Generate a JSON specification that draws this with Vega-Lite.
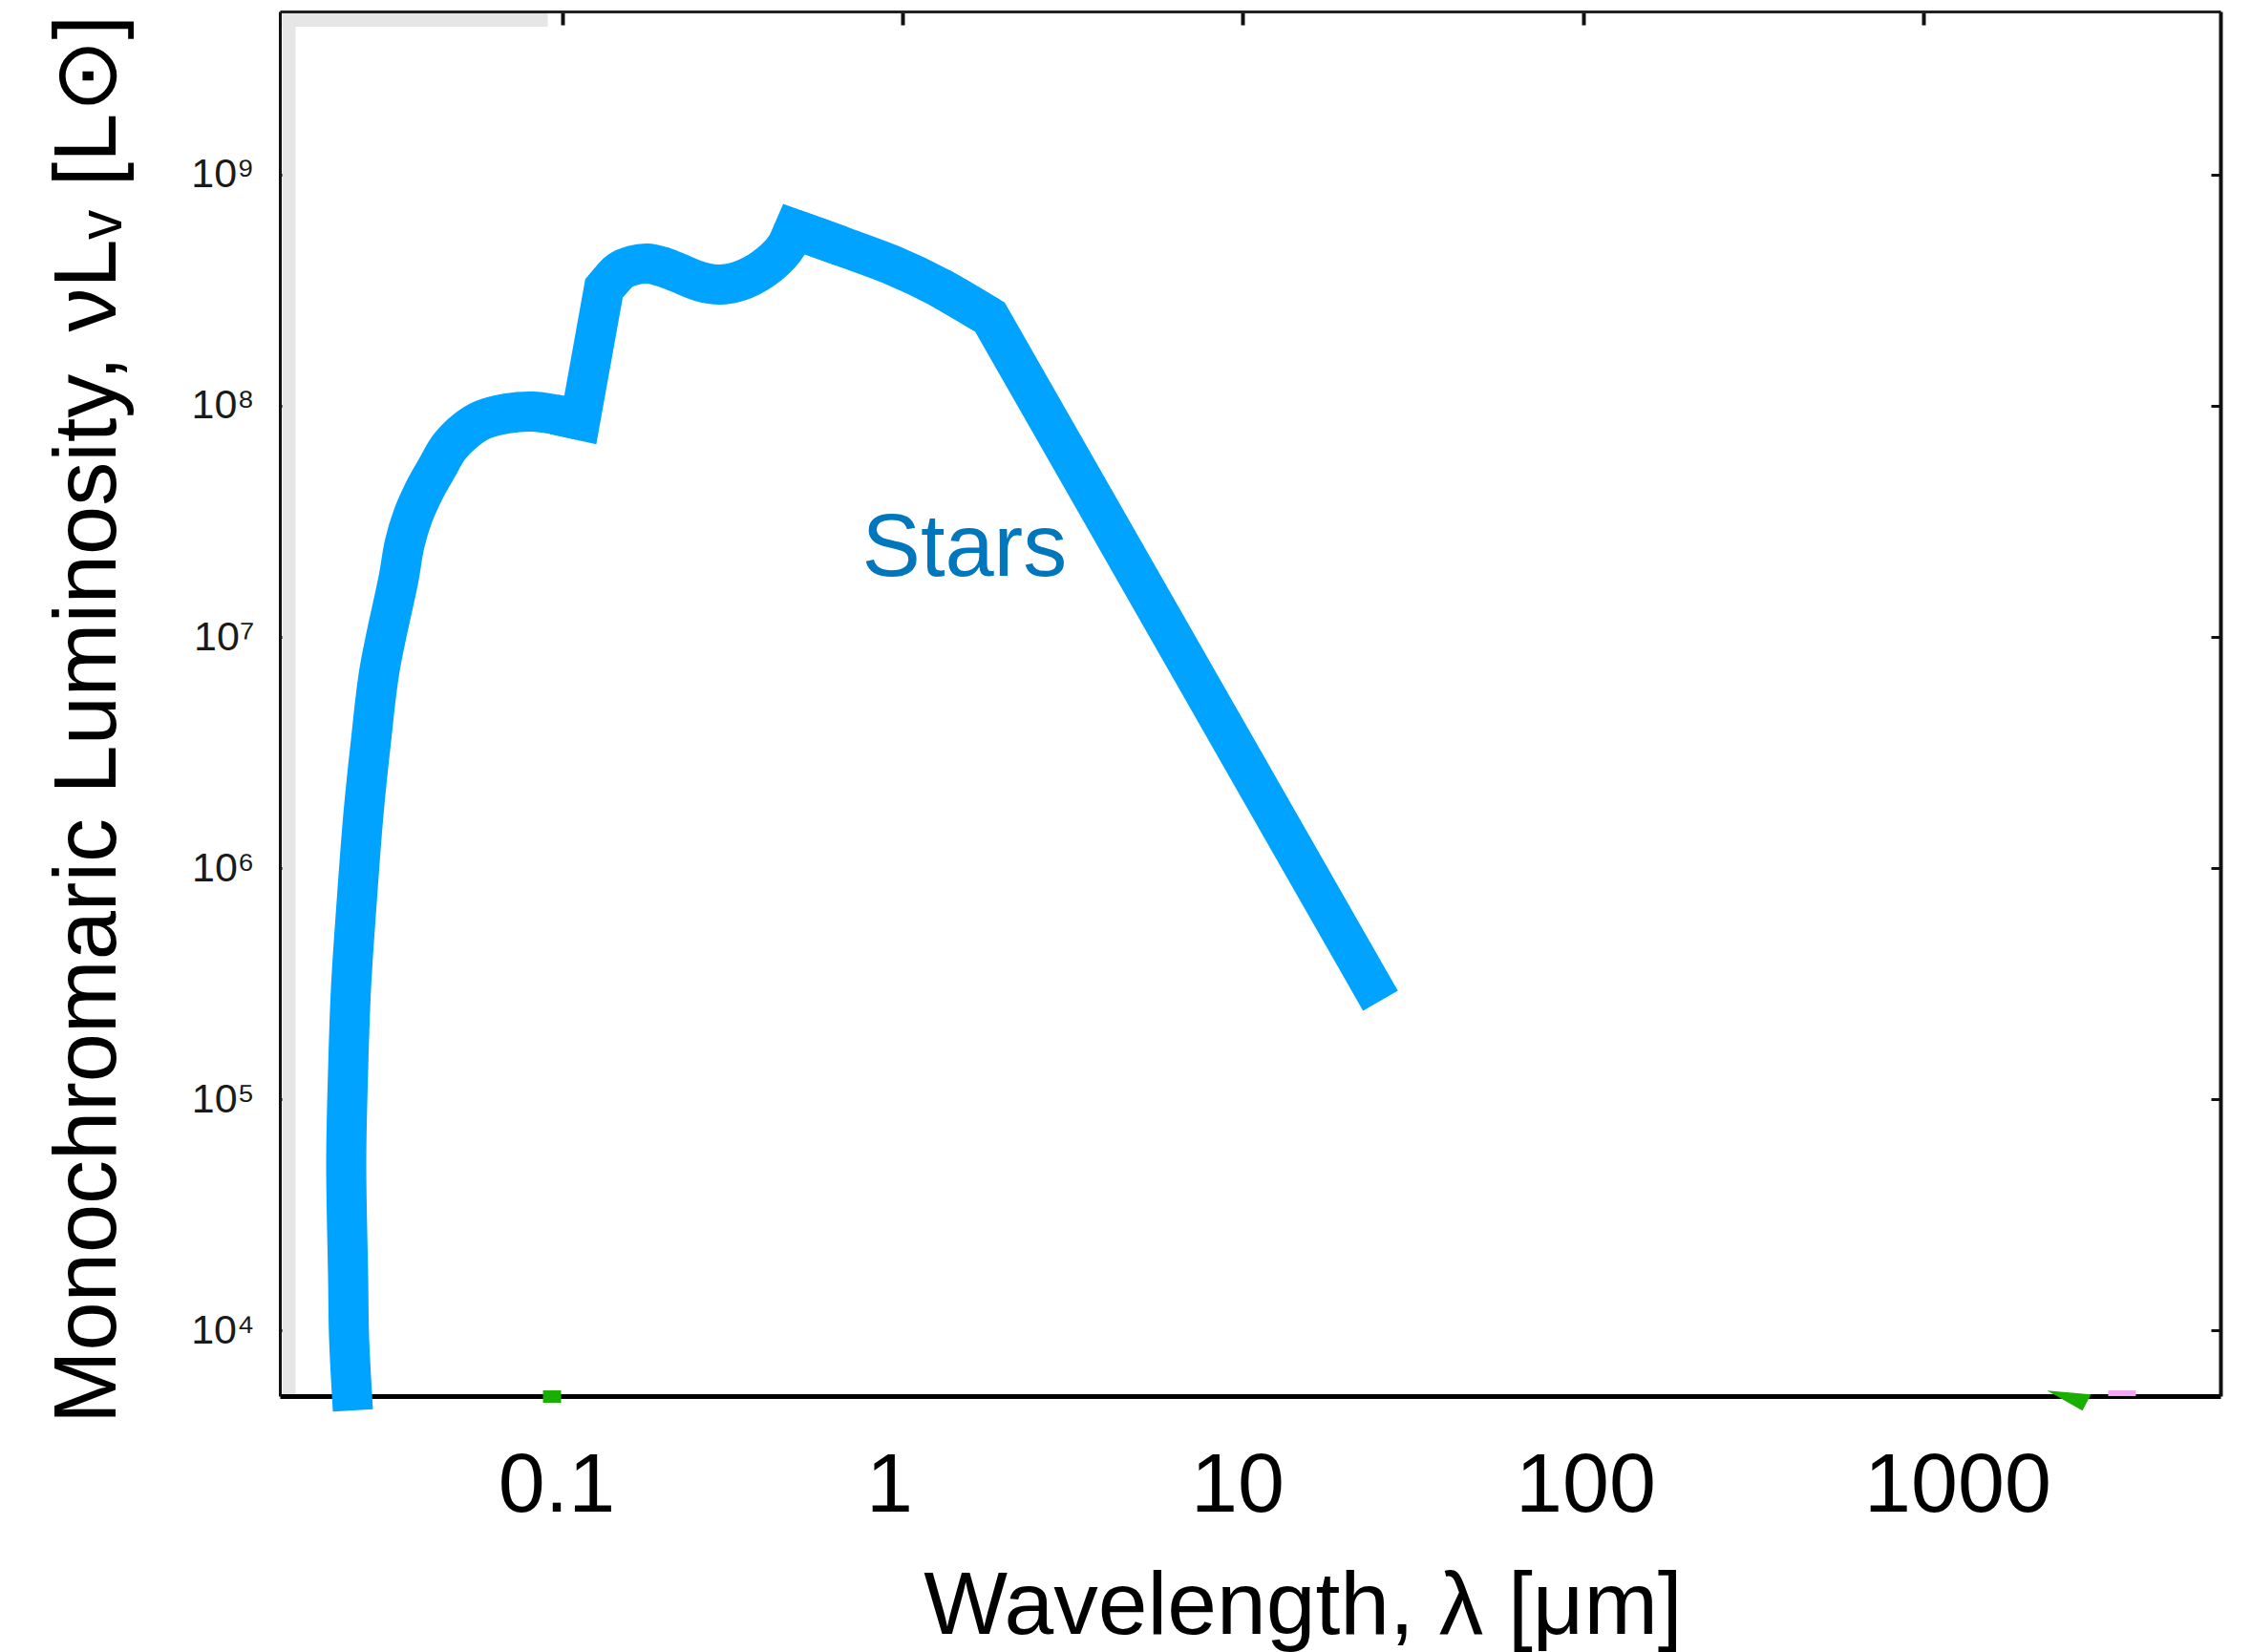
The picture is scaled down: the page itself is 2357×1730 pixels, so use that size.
{
  "$schema": "https://vega.github.io/schema/vega-lite/v6.json",
  "width": 2032,
  "height": 1450,
  "autosize": {"type": "none"},
  "padding": {"left": 293, "top": 12, "right": 32, "bottom": 268},
  "background": "white",
  "config": {"view": {"stroke": null}, "font": "Liberation Sans", "axis": {"grid": false}},
  "resolve": {"axis": {"x": "independent", "y": "independent"}},
  "datasets": {
    "stars": [
      {"i": 1, "lam": 0.02430, "L": 4497},
      {"i": 2, "lam": 0.02368, "L": 9357},
      {"i": 3, "lam": 0.02353, "L": 16880},
      {"i": 4, "lam": 0.02323, "L": 53370},
      {"i": 5, "lam": 0.02353, "L": 134300},
      {"i": 6, "lam": 0.02399, "L": 301500},
      {"i": 7, "lam": 0.02493, "L": 710000},
      {"i": 8, "lam": 0.02609, "L": 1703600},
      {"i": 9, "lam": 0.02748, "L": 3578000},
      {"i": 10, "lam": 0.02912, "L": 7236000},
      {"i": 11, "lam": 0.03314, "L": 18040000},
      {"i": 12, "lam": 0.03445, "L": 25160000},
      {"i": 13, "lam": 0.03650, "L": 33480000},
      {"i": 14, "lam": 0.03947, "L": 43280000},
      {"i": 15, "lam": 0.04290, "L": 53880000},
      {"i": 16, "lam": 0.04667, "L": 66430000},
      {"i": 17, "lam": 0.05242, "L": 78820000},
      {"i": 18, "lam": 0.05813, "L": 86700000},
      {"i": 19, "lam": 0.06877, "L": 92660000},
      {"i": 20, "lam": 0.08185, "L": 94450000},
      {"i": 21, "lam": 0.09497, "L": 91800000},
      {"i": 22, "lam": 0.1131, "L": 86700000},
      {"i": 23, "lam": 0.1328, "L": 322400000},
      {"i": 24, "lam": 0.1474, "L": 382400000},
      {"i": 25, "lam": 0.1613, "L": 404900000},
      {"i": 26, "lam": 0.1777, "L": 412800000},
      {"i": 27, "lam": 0.1957, "L": 401100000},
      {"i": 28, "lam": 0.2171, "L": 378900000},
      {"i": 29, "lam": 0.2551, "L": 344500000},
      {"i": 30, "lam": 0.2921, "L": 334800000},
      {"i": 31, "lam": 0.3456, "L": 354500000},
      {"i": 32, "lam": 0.4088, "L": 412800000},
      {"i": 33, "lam": 0.4592, "L": 499300000},
      {"i": 34, "lam": 0.4803, "L": 581500000},
      {"i": 35, "lam": 0.6636, "L": 489900000},
      {"i": 36, "lam": 0.9224, "L": 408900000},
      {"i": 37, "lam": 1.2823, "L": 325400000},
      {"i": 38, "lam": 1.8059, "L": 242300000},
      {"i": 39, "lam": 25.34, "L": 266500}
    ]
  },
  "layer": [
    {
      "data": {"values": [
        {"lam": 0.01507, "lam2": 0.0165, "L": 5285, "L2": 4.992e9},
        {"lam": 0.01507, "lam2": 0.0908, "L": 4.37e9, "L2": 4.992e9}
      ]},
      "mark": {"type": "rect", "color": "#e6e6e6"},
      "encoding": {
        "x": {"field": "lam", "type": "quantitative",
          "scale": {"type": "log", "domain": [0.014825, 7432], "nice": false},
          "axis": {"orient": "bottom", "values": [0.1, 1, 10, 100, 1000], "format": "~g",
            "labelFont": "Liberation Sans", "labelFontSize": 88, "labelColor": "black", "labelPadding": 50, "labelLimit": 0,
            "labelOffset": {"condition": [{"test": "datum.value == 1000", "value": 35}, {"test": "datum.value == 1", "value": -14}, {"test": "datum.value == 100", "value": 2}], "value": -6},
            "ticks": false, "domainWidth": 5, "domainColor": "black",
            "title": "Wavelength, λ [μm]", "titleFont": "Liberation Sans", "titleFontSize": 93, "titleFontWeight": "normal",
            "titleColor": "black", "titleX": 1071, "titleY": 248, "titleBaseline": "alphabetic", "titleAlign": "center", "titleLimit": 0,
            "labelFlush": false, "labelOverlap": false, "grid": false}},
        "x2": {"field": "lam2"},
        "y": {"field": "L", "type": "quantitative",
          "scale": {"type": "log", "domain": [5188, 5.088e9], "nice": false},
          "axis": {"orient": "left", "values": [10000, 100000, 1000000, 10000000, 100000000, 1000000000],
            "labelExpr": "'10' + ['⁰','¹','²','³','⁴','⁵','⁶','⁷','⁸','⁹'][round(log(datum.value)/LN10)]",
            "labelFont": "Liberation Sans", "labelFontSize": 43, "labelColor": "#1a1a1a", "labelPadding": 39, "labelBaseline": "middle", "labelLimit": 0,
            "tickSize": -12, "tickWidth": 3, "tickColor": "#111111", "domainWidth": 3, "domainColor": "#111111",
            "title": "Monochromaric Luminosity, νLᵥ [L⊙]", "titleFont": "Liberation Sans", "titleFontSize": 92, "titleFontWeight": "normal",
            "titleColor": "black", "titleX": -173, "titleY": 741, "titleAngle": -90, "titleBaseline": "alphabetic", "titleAlign": "center", "titleLimit": 0,
            "labelFlush": false, "labelOverlap": false, "grid": false}},
        "y2": {"field": "L2"}
      }
    },
    {
      "data": {"name": "stars"},
      "transform": [{"filter": "datum.i >= 21 && datum.i <= 24"}],
      "mark": {"type": "line", "color": "#00A3FF", "strokeWidth": 42, "clip": false, "strokeJoin": "miter", "strokeCap": "butt", "strokeMiterLimit": 10},
      "encoding": {
        "x": {"field": "lam", "type": "quantitative",
          "scale": {"type": "log", "domain": [0.014825, 7432], "nice": false},
          "axis": {"orient": "top", "values": [0.1, 1, 10, 100, 1000], "labels": false, "title": null,
            "tickSize": -14, "tickWidth": 4, "tickColor": "#111111", "domainWidth": 3, "domainColor": "#222222", "grid": false}},
        "y": {"field": "L", "type": "quantitative",
          "scale": {"type": "log", "domain": [5188, 5.088e9], "nice": false},
          "axis": {"orient": "right", "values": [10000, 100000, 1000000, 10000000, 100000000, 1000000000], "labels": false, "title": null,
            "tickSize": -10, "tickWidth": 3, "tickColor": "#111111", "domainWidth": 4, "domainColor": "#111111", "grid": false}},
        "order": {"field": "i", "type": "quantitative"}
      }
    },
    {
      "data": {"name": "stars"},
      "transform": [{"filter": "datum.i >= 33 && datum.i <= 35"}],
      "mark": {"type": "line", "color": "#00A3FF", "strokeWidth": 42, "clip": false, "strokeJoin": "miter", "strokeCap": "butt", "strokeMiterLimit": 10},
      "encoding": {
        "x": {"field": "lam", "type": "quantitative", "scale": {"type": "log", "domain": [0.014825, 7432], "nice": false}, "axis": null},
        "y": {"field": "L", "type": "quantitative", "scale": {"type": "log", "domain": [5188, 5.088e9], "nice": false}, "axis": null},
        "order": {"field": "i", "type": "quantitative"}
      }
    },
    {
      "data": {"name": "stars"},
      "transform": [{"filter": "datum.i >= 37"}],
      "mark": {"type": "line", "color": "#00A3FF", "strokeWidth": 42, "clip": false, "strokeJoin": "miter", "strokeCap": "butt", "strokeMiterLimit": 10},
      "encoding": {
        "x": {"field": "lam", "type": "quantitative", "scale": {"type": "log", "domain": [0.014825, 7432], "nice": false}, "axis": null},
        "y": {"field": "L", "type": "quantitative", "scale": {"type": "log", "domain": [5188, 5.088e9], "nice": false}, "axis": null},
        "order": {"field": "i", "type": "quantitative"}
      }
    },
    {
      "data": {"name": "stars"},
      "transform": [{"filter": "datum.i <= 22"}],
      "mark": {"type": "line", "color": "#00A3FF", "strokeWidth": 42, "clip": false, "strokeCap": "butt", "interpolate": "catmull-rom"},
      "encoding": {
        "x": {"field": "lam", "type": "quantitative", "scale": {"type": "log", "domain": [0.014825, 7432], "nice": false}, "axis": null},
        "y": {"field": "L", "type": "quantitative", "scale": {"type": "log", "domain": [5188, 5.088e9], "nice": false}, "axis": null},
        "order": {"field": "i", "type": "quantitative"}
      }
    },
    {
      "data": {"name": "stars"},
      "transform": [{"filter": "datum.i >= 23 && datum.i <= 34"}],
      "mark": {"type": "line", "color": "#00A3FF", "strokeWidth": 42, "clip": false, "strokeCap": "butt", "interpolate": "catmull-rom"},
      "encoding": {
        "x": {"field": "lam", "type": "quantitative", "scale": {"type": "log", "domain": [0.014825, 7432], "nice": false}, "axis": null},
        "y": {"field": "L", "type": "quantitative", "scale": {"type": "log", "domain": [5188, 5.088e9], "nice": false}, "axis": null},
        "order": {"field": "i", "type": "quantitative"}
      }
    },
    {
      "data": {"name": "stars"},
      "transform": [{"filter": "datum.i >= 34 && datum.i <= 38"}],
      "mark": {"type": "line", "color": "#00A3FF", "strokeWidth": 42, "clip": false, "strokeCap": "butt", "interpolate": "catmull-rom"},
      "encoding": {
        "x": {"field": "lam", "type": "quantitative", "scale": {"type": "log", "domain": [0.014825, 7432], "nice": false}, "axis": null},
        "y": {"field": "L", "type": "quantitative", "scale": {"type": "log", "domain": [5188, 5.088e9], "nice": false}, "axis": null},
        "order": {"field": "i", "type": "quantitative"}
      }
    },
    {
      "data": {"values": [{"lam": 0.760, "L": 18390000, "name": "Stars"}]},
      "mark": {"type": "text", "align": "left", "baseline": "alphabetic", "fontSize": 92, "color": "#0077BD", "font": "Liberation Sans"},
      "encoding": {
        "x": {"field": "lam", "type": "quantitative", "scale": {"type": "log", "domain": [0.014825, 7432], "nice": false}, "axis": null},
        "y": {"field": "L", "type": "quantitative", "scale": {"type": "log", "domain": [5188, 5.088e9], "nice": false}, "axis": null},
        "text": {"field": "name"}
      }
    },
    {
      "data": {"values": [{"lam": 0.0879, "lam2": 0.09936, "L": 4853, "L2": 5491}]},
      "mark": {"type": "rect", "color": "#1AAE00", "clip": false},
      "encoding": {
        "x": {"field": "lam", "type": "quantitative", "scale": {"type": "log", "domain": [0.014825, 7432], "nice": false}, "axis": null},
        "x2": {"field": "lam2"},
        "y": {"field": "L", "type": "quantitative", "scale": {"type": "log", "domain": [5188, 5.088e9], "nice": false}, "axis": null},
        "y2": {"field": "L2"}
      }
    },
    {
      "data": {"values": [{"lam": 3478, "lam2": 4195, "L": 5188, "L2": 5491}]},
      "mark": {"type": "rect", "color": "#F5A6F2", "clip": false},
      "encoding": {
        "x": {"field": "lam", "type": "quantitative", "scale": {"type": "log", "domain": [0.014825, 7432], "nice": false}, "axis": null},
        "x2": {"field": "lam2"},
        "y": {"field": "L", "type": "quantitative", "scale": {"type": "log", "domain": [5188, 5.088e9], "nice": false}, "axis": null},
        "y2": {"field": "L2"}
      }
    },
    {
      "data": {"values": [{"lam": 2669, "L": 5030}]},
      "mark": {"type": "point", "shape": "M -1 -0.39 L 1 -0.22 L 0.61 0.52 Z", "size": 2116, "filled": true, "color": "#1AAE00", "opacity": 1, "clip": false},
      "encoding": {
        "x": {"field": "lam", "type": "quantitative", "scale": {"type": "log", "domain": [0.014825, 7432], "nice": false}, "axis": null},
        "y": {"field": "L", "type": "quantitative", "scale": {"type": "log", "domain": [5188, 5.088e9], "nice": false}, "axis": null}
      }
    }
  ]
}
